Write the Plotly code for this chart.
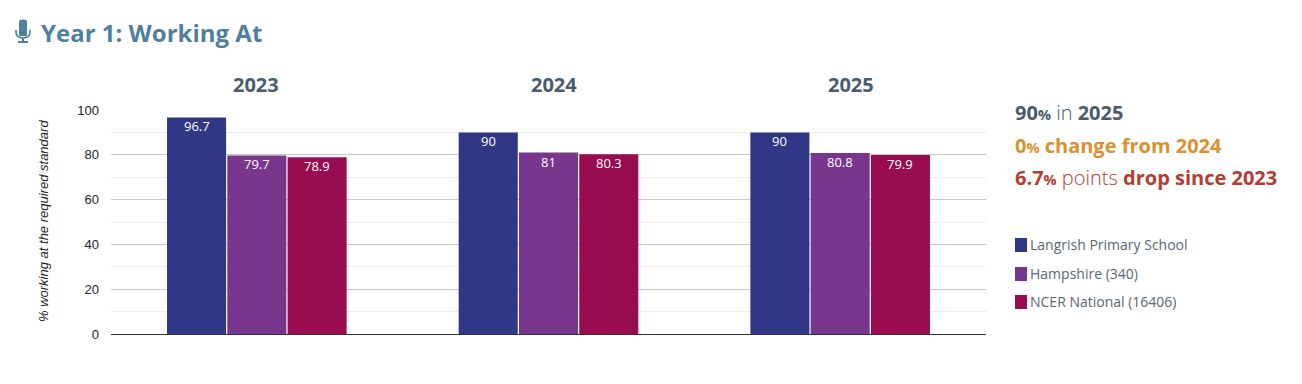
import plotly.graph_objects as go

years = ["2023", "2024", "2025"]
series_names = ["Langrish Primary School", "Hampshire (340)", "NCER National (16406)"]
school = [96.7, 90, 90]
hampshire = [79.7, 81, 80.8]
national = [78.9, 80.3, 79.9]
colors = ["#303786", "#78378c", "#990d50"]

W, H = 1302, 384
L, R, T, B = 111, 986, 110, 334
FONT = "Open Sans"
SLATE = "#4a5b6b"


def px(x):
    return (x - L) / (R - L)


def py(y):
    return (B - y) / (B - T)


fig = go.Figure()
annotations = []
for i, (name, vals, c) in enumerate(zip(series_names, [school, hampshire, national], colors)):
    fig.add_trace(go.Bar(name=name, x=years, y=vals, marker=dict(color=c, line_width=0)))
    for j, v in enumerate(vals):
        annotations.append(dict(
            xref="x", yref="y", x=j, y=v, text=str(v), showarrow=False,
            xshift=(i - 1) * 60.3, yshift=-9, yanchor="middle", xanchor="center",
            font=dict(family=FONT, size=13, color="white")))


def note(x, y, text, size, color, anchor="left", **kw):
    annotations.append(dict(
        xref="paper", yref="paper", x=px(x), y=py(y), text=text, showarrow=False,
        xanchor=anchor, yanchor="middle", align="left", borderpad=0, borderwidth=0,
        font=dict(family=kw.pop("family", FONT), size=size, color=color), **kw))


def small(t):
    return f'<span style="font-size:14.5px">{t}</span>'


def light(t):
    return f'<span style="font-weight:300">{t}</span>'


note(40.5, 32.5, "<b>Year 1: Working At</b>", 24, "#4e7f9b")
note(1015, 113, f"<b>90{small('%')}</b>{light(' in ')}<b>2025</b>", 20, SLATE)
note(1015, 145, f"<b>0{small('%')} change from 2024</b>", 20, "#dc902e")
note(1015, 177, f"<b>6.7{small('%')}</b>{light(' points ')}<b>drop since 2023</b>", 20, "#b43c30")
note(43.5, 221.5, "<i>% working at the required standard</i>", 13, "#222222",
     anchor="center", textangle=-90, family="Liberation Sans")
for yr, cx in zip(years, [256, 553.5, 851]):
    note(cx, 84, f"<b>{yr}</b>", 20, SLATE, anchor="center")

shapes = []
legend_y = [245, 274, 302]
for name, c, ly in zip(series_names, colors, legend_y):
    note(1029.5, ly - 0.8, name, 14, "#5b6670")
    shapes.append(dict(type="rect", xref="paper", yref="paper", layer="above",
                       x0=px(1015), x1=px(1027), y0=py(ly - 7), y1=py(ly + 7),
                       fillcolor=c, line_width=0))

# microphone icon
ICON = "#4e7f9b"
shapes.append(dict(type="rect", xref="paper", yref="paper", x0=px(19), x1=px(27),
                   y0=py(21.5), y1=py(36), fillcolor=ICON, line_width=0))
shapes.append(dict(type="circle", xref="paper", yref="paper", x0=px(19), x1=px(27),
                   y0=py(19.5), y1=py(24), fillcolor=ICON, line_width=0))
mic_arc = (f"M {px(16)} {py(30)} L {px(16)} {py(32)} Q {px(16)} {py(38)} {px(23)} {py(38)} "
           f"Q {px(30)} {py(38)} {px(30)} {py(32)} L {px(30)} {py(30)}")
shapes.append(dict(type="path", xref="paper", yref="paper", path=mic_arc,
                   line=dict(color=ICON, width=1.6)))
shapes.append(dict(type="rect", xref="paper", yref="paper", x0=px(22), x1=px(24),
                   y0=py(38), y1=py(42), fillcolor=ICON, line_width=0))
shapes.append(dict(type="rect", xref="paper", yref="paper", x0=px(18), x1=px(28),
                   y0=py(41), y1=py(43), fillcolor=ICON, line_width=0))

fig.update_layout(
    width=W, height=H, barmode="group", bargap=0.38, bargroupgap=0.02,
    showlegend=False, paper_bgcolor="white", plot_bgcolor="white",
    margin=dict(l=L, r=W - R, t=T, b=H - B, autoexpand=False),
    annotations=annotations, shapes=shapes,
    xaxis=dict(type="category", range=[-0.5, 2.5], showticklabels=False, showgrid=False,
               ticks="", showline=False),
    yaxis=dict(range=[0, 100], tickvals=[0, 20, 40, 60, 80, 100], ticks="",
               ticklabelstandoff=11, showgrid=True, gridcolor="#c8c8c8", gridwidth=1,
               minor=dict(tickvals=[10, 30, 50, 70, 90], showgrid=True, gridcolor="#ececec",
                          gridwidth=1, ticks=""),
               zeroline=True, zerolinecolor="#333333", zerolinewidth=1,
               tickfont=dict(family="Liberation Sans", size=13, color="#222222")),
)

fig.write_html("out.html", config={"displayModeBar": False},
               post_script="document.body.style.margin='0';document.body.style.overflow='hidden';")
